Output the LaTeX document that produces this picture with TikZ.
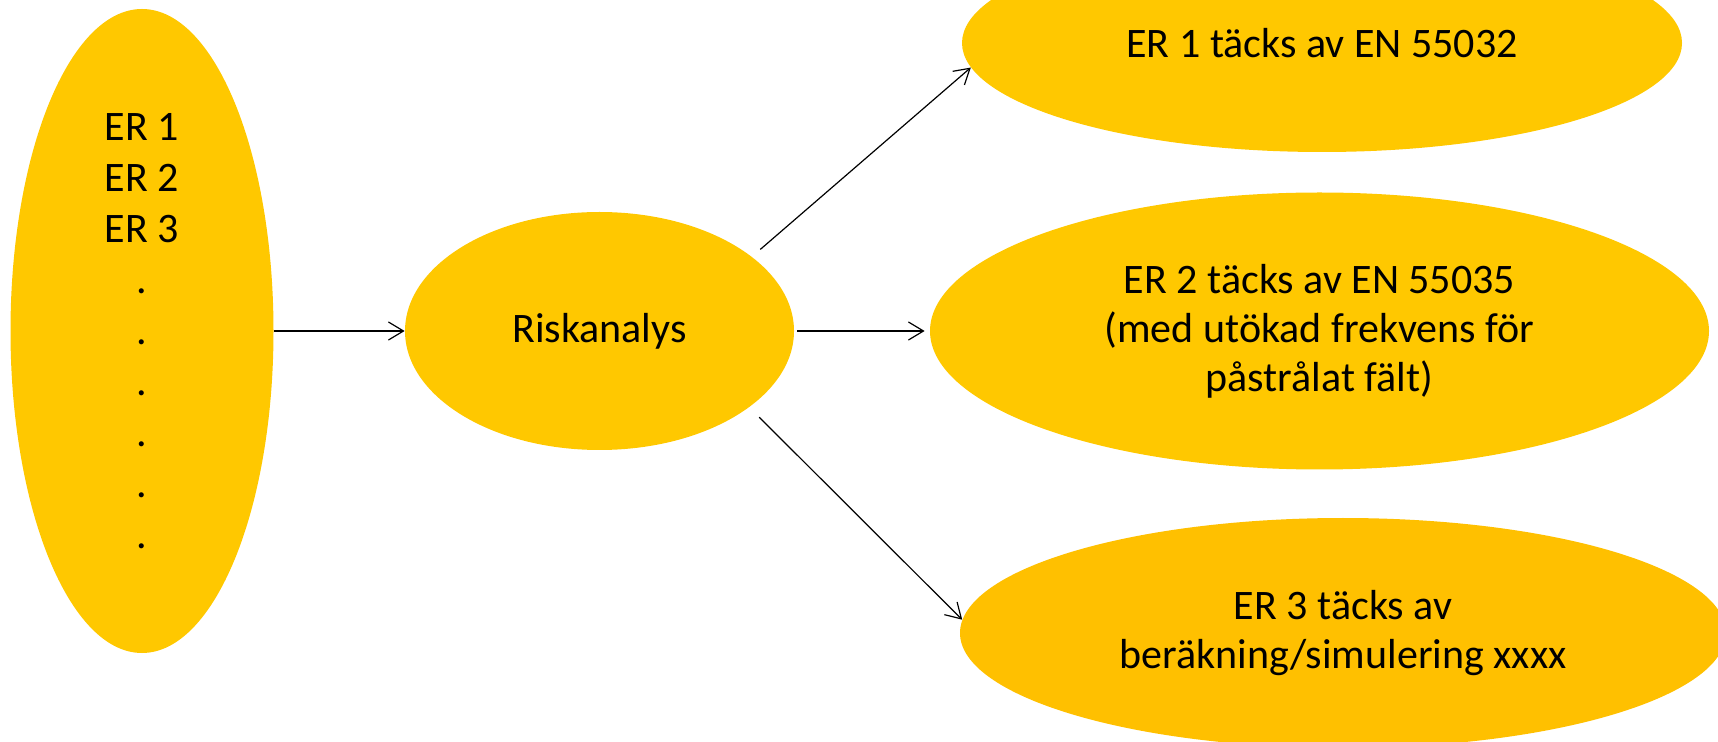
\documentclass[tikz,border=0pt]{standalone}
\usepackage{fontspec}
\setmainfont{Carlito}
\usetikzlibrary{shapes.geometric,arrows.meta}
\definecolor{gul}{RGB}{255,200,0}
\definecolor{gulmork}{RGB}{255,192,0}

\begin{document}
\begin{tikzpicture}[x=0.5pt,y=-0.5pt,
            er/.style={ellipse, fill=gul, inner sep=0pt, align=center, font=\fontsize{21}{24.5}\selectfont},
            pil/.style={-{Straight Barb[length=7.5pt,width=9pt]}, line width=0.6pt}]
            \useasboundingbox (0,0) rectangle (1718,742);
            \clip (0,0) rectangle (1718,742);
            \node[er, font=\fontsize{21}{25.5}\selectfont, minimum width=131.5pt, minimum height=322pt] (krav) at (142,331) {ER 1\\ER 2\\ER 3\\.\\.\\.\\.\\.\\.};
            \node[er, minimum width=194.5pt, minimum height=119pt] (risk) at (599.5,331) {Riskanalys};
            \node[er, minimum width=360pt, minimum height=109pt] (er1) at (1322,43) {ER 1 täcks av EN 55032};
            \node[er, minimum width=389.5pt, minimum height=138.5pt] (er2) at (1319.5,331) {ER 2 täcks av EN 55035\\(med utökad frekvens för\\påstrålat fält)};
            \node[er, fill=gulmork, minimum width=383pt, minimum height=115pt] (er3) at (1343,633) {ER 3 täcks av\\beräkning/simulering xxxx};
            \draw[pil] (krav.east) -- (risk.west);
            \draw[pil, shorten <=1.5pt, shorten >=2.5pt] (risk.east) -- (er2.west);
            \draw[pil, shorten <=5.5pt] (risk.26) -- (er1.184);
            \draw[pil, shorten <=7pt] (risk.-27) -- (er3.178);
        \end{tikzpicture}
\end{document}
